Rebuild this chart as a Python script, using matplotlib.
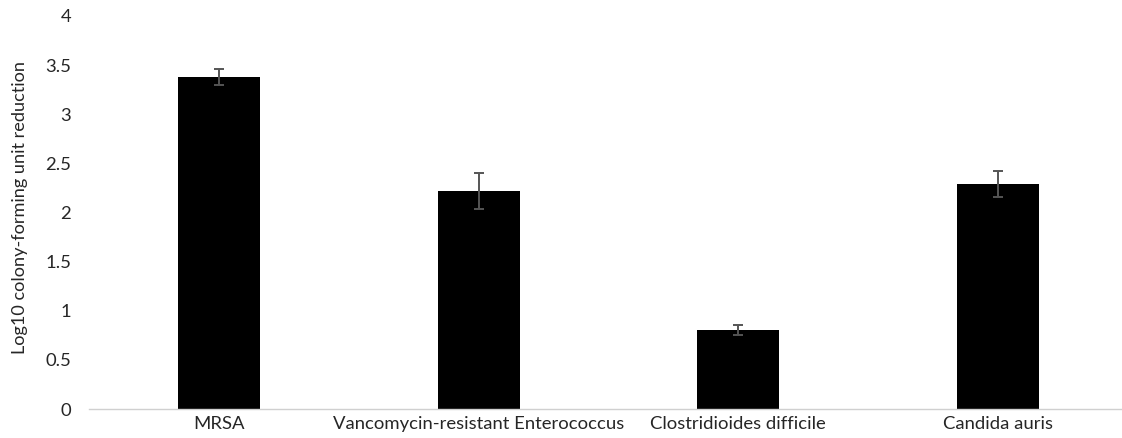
import matplotlib
matplotlib.use("Agg")
import matplotlib.pyplot as plt

categories = ["MRSA", "Vancomycin-resistant Enterococcus", "Clostridioides difficile", "Candida auris"]
values = [3.38, 2.22, 0.80, 2.29]
errors = [0.08, 0.18, 0.05, 0.13]
yticks = [0, 0.5, 1, 1.5, 2, 2.5, 3, 3.5, 4]
ytick_labels = ["0", "0.5", "1", "1.5", "2", "2.5", "3", "3.5", "4"]

plt.rcParams['font.family'] = ['Lato', 'DejaVu Sans']

W, H = 1122, 438
fig = plt.figure(figsize=(W / 100, H / 100), dpi=100)
left_px, right_px, top_px, bottom_px = 89, 1122, 16, 409
ax = fig.add_axes([left_px / W, (H - bottom_px) / H, (right_px - left_px) / W, (bottom_px - top_px) / H])

x = list(range(len(categories)))
ax.bar(x, values, width=0.316, color="black", zorder=2)
ax.errorbar(x, values, yerr=errors, fmt="none", ecolor="#555555", elinewidth=1.4,
            capsize=3.5, capthick=1.4, zorder=3)

spacing = 259.7
ax.set_xlim(-0.5, -0.5 + (right_px - left_px) / spacing)
ax.set_ylim(0, 4)
ax.set_xticks(x)
ax.set_xticklabels(categories, fontsize=13.3, color="#262626")
ax.set_yticks(yticks)
ax.set_yticklabels(ytick_labels, fontsize=13.3, color="#262626")
ax.tick_params(axis="both", length=0)
ax.tick_params(axis="y", pad=13)
ax.tick_params(axis="x", pad=5)

for s in ["top", "right", "left"]:
    ax.spines[s].set_visible(False)
ax.spines["bottom"].set_color("#d0d0d0")
ax.spines["bottom"].set_linewidth(1.0)

fig.text(20 / W, 1 - 208 / H, "Log10 colony-forming unit reduction", rotation=90,
         ha="center", va="center", fontsize=13.1, color="#262626")

fig.savefig("out.png", dpi=100)
